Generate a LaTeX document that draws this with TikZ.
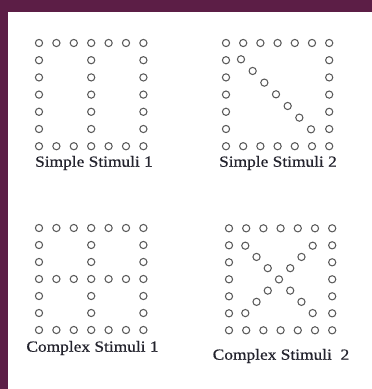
\documentclass[tikz,border=0pt]{standalone}
\usepackage{fontspec}
\newfontfamily\labfont{Liberation Serif}[FakeStretch=1.12,FakeBold=0.6]
\definecolor{frame}{RGB}{92,30,70}
\definecolor{dotc}{RGB}{90,90,90}
\definecolor{txt}{RGB}{35,35,45}
\begin{document}
\begin{tikzpicture}[x=1pt,y=-1pt,
  dot/.style={circle,draw=dotc,line width=1.05pt,minimum size=7.2pt,inner sep=0pt},
  lab/.style={text=txt,font=\labfont\fontsize{15.5}{17}\selectfont,inner sep=0pt}]
\useasboundingbox (0,0) rectangle (372,389);
\fill[white] (0,0) rectangle (372,389);
\fill[frame] (0,0) rectangle (372,12);
\fill[frame] (0,0) rectangle (8,389);
% Simple Stimuli 1
\begin{scope}[shift={(39,43)}]
\foreach \i in {0,...,6}{
  \node[dot] (a-t\i) at (17.4*\i,0) {};
  \node[dot] (a-b\i) at (17.4*\i,17.2*6) {};}
\foreach \j in {1,...,5}{
  \node[dot] (a-l\j) at (0,17.2*\j) {};
  \node[dot] (a-m\j) at (17.4*3,17.2*\j) {};
  \node[dot] (a-r\j) at (17.4*6,17.2*\j) {};}
\end{scope}
\node[lab] (la) at (94,163) {Simple Stimuli 1};
% Simple Stimuli 2
\begin{scope}[shift={(226,43)}]
\foreach \i in {0,...,6}{
  \node[dot] (b-t\i) at (17.2*\i,0) {};
  \node[dot] (b-b\i) at (17.2*\i,17.2*6) {};}
\foreach \j in {1,...,5}{
  \node[dot] (b-l\j) at (0,17.2*\j) {};
  \node[dot] (b-r\j) at (17.2*6,17.2*\j) {};}
\foreach \k in {0,...,6}{
  \node[dot] (b-d\k) at (15+11.67*\k,16.3+11.67*\k) {};}
\end{scope}
\node[lab] (lb) at (278,163) {Simple Stimuli 2};
% Complex Stimuli 1
\begin{scope}[shift={(39,228)}]
\foreach \i in {0,...,6}{
  \node[dot] (c-t\i) at (17.4*\i,0) {};
  \node[dot] (c-h\i) at (17.4*\i,17*3) {};
  \node[dot] (c-b\i) at (17.4*\i,17*6) {};}
\foreach \j in {1,2,4,5}{
  \node[dot] (c-l\j) at (0,17*\j) {};
  \node[dot] (c-m\j) at (17.4*3,17*\j) {};
  \node[dot] (c-r\j) at (17.4*6,17*\j) {};}
\end{scope}
\node[lab] (lc) at (92.5,348) {Complex Stimuli 1};
% Complex Stimuli 2
\begin{scope}[shift={(229,228.3)}]
\foreach \i in {0,...,6}{
  \node[dot] (d-t\i) at (17.2*\i,0) {};
  \node[dot] (d-b\i) at (17.2*\i,17*6) {};}
\foreach \j in {1,...,5}{
  \node[dot] (d-l\j) at (0,17*\j) {};
  \node[dot] (d-r\j) at (17.2*6,17*\j) {};}
\foreach \k in {0,...,6}{
  \node[dot] (d-p\k) at (16.3+11.23*\k,17.4+11.23*\k) {};}
\foreach \k in {0,1,2,4,5,6}{
  \node[dot] (d-q\k) at (83.7-11.23*\k,17.4+11.23*\k) {};}
\end{scope}
\node[lab] (ld) at (281,356) {Complex Stimuli~~2};
\end{tikzpicture}
\end{document}
